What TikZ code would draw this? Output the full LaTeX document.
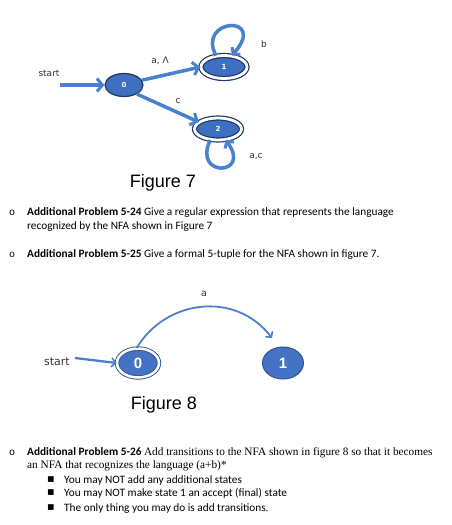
\documentclass[tikz,border=0pt]{standalone}
\usepackage{fontspec}
\setmainfont{Carlito}
\newfontfamily\hand{DejaVu Sans}
\newfontfamily\arialf{Liberation Sans}
\newfontfamily\timesf{Liberation Serif}
\newfontfamily\monof{Liberation Mono}
\usetikzlibrary{arrows.meta,shapes.geometric}
\definecolor{nodefill}{HTML}{3F6FC0}
\definecolor{nodeline}{HTML}{1F3864}
\definecolor{arrowblue}{HTML}{4A80CF}
\definecolor{fillb}{HTML}{4472C4}
\definecolor{lineb}{HTML}{2F5597}
\tikzset{
  stA/.style={ellipse,fill=nodefill,draw=nodeline,line width=1.2pt,inner sep=0pt,
     text=white,font=\hand\bfseries\fontsize{7}{8}\selectfont},
  stAacc/.style={stA,double=white,double distance=2.8pt},
  thickarr/.style={draw=arrowblue,line width=3.5pt,-{Straight Barb[length=5.5pt,width=13pt,line width=3pt]}},
  looparr/.style={draw=arrowblue,line width=3.5pt,-{Straight Barb[length=4.5pt,width=11pt,line width=3pt]}},
  lbl/.style={font=\hand\fontsize{9}{10}\selectfont,text=black!80},
  stB/.style={ellipse,fill=fillb,draw=lineb,line width=1pt,inner sep=0pt,
     text=white,font=\arialf\bfseries\fontsize{15}{16}\selectfont},
  thinarr/.style={draw=arrowblue,line width=1.8pt,-{Straight Barb[length=4pt,width=9pt,line width=1.6pt]}},
  figcap/.style={font=\arialf\fontsize{18}{20}\selectfont,anchor=base},
  para/.style={anchor=base west,inner sep=0pt,font=\fontsize{11.3}{13}\selectfont},
  bul/.style={anchor=base west,inner sep=0pt,font=\monof\fontsize{10}{11}\selectfont},
  sqb/.style={anchor=center,inner sep=0pt,font=\hand\fontsize{7.5}{8}\selectfont},
}
\begin{document}
\begin{tikzpicture}[x=1pt,y=-1pt]
\useasboundingbox[fill=white] (0,0) rectangle (452,525);
% ---------- Figure 7 ----------
\node[lbl] (start7) at (49,73) {start};
\coordinate (s7) at (60,85);
\node[stA,minimum width=38pt,minimum height=23pt] (q0) at (124,85) {0};
\node[stAacc,minimum width=46pt,minimum height=23pt] (q1) at (224,67) {1};
\node[stAacc,minimum width=47pt,minimum height=22pt] (q2) at (218,129) {2};
\draw[thickarr] (s7) -- (q0.west);
\draw[thickarr] (q0.15) -- (q1.west);
\draw[thickarr] (q0.-35) -- (q2.160);
\node[lbl] (la) at (160,61) {a, Λ};
\node[lbl] (lc) at (178,101) {c};
\draw[looparr] (q1.125) .. controls (196,18) and (268,14) .. (q1.55);
\node[lbl] (lb) at (264,44) {b};
\draw[looparr] (q2.-125) .. controls (192,178) and (252,176) .. (q2.-55);
\node[lbl] (lac) at (256,157) {a,c};
\node[figcap] (f7) at (163,187) {Figure 7};
% ---------- Text block 1 ----------
\node[bul] (b1) at (9,215) {o};
\node[para] (t1) at (27,215) {\textbf{Additional Problem 5-24} Give a regular expression that represents the language};
\node[para] (t2) at (27,229) {recognized by the NFA shown in Figure 7};
\node[bul] (b2) at (9,257) {o};
\node[para] (t3) at (27,257) {\textbf{Additional Problem 5-25} Give a formal 5-tuple for the NFA shown in figure 7.};
% ---------- Figure 8 ----------
\node[lbl,font=\hand\fontsize{11}{12}\selectfont] (start8) at (57,362) {start};
\coordinate (s8) at (75,358);
\node[stB,minimum width=42pt,minimum height=29pt,
  double=white,double distance=2.5pt,draw=lineb,line width=0.9pt] (p0) at (138,363) {0};
\node[stB,minimum width=41pt,minimum height=32pt] (p1) at (283,363) {1};
\draw[thinarr,line width=2.3pt] (s8) -- (p0.west);
\coordinate (e8) at (272,338);
\draw[thinarr] (p0.95) .. controls (165,300) and (235,290) .. (e8);
\node[lbl,font=\hand\fontsize{9.5}{10}\selectfont] (la8) at (204,294) {a};
\node[figcap] (f8) at (164,409) {Figure 8};
% ---------- Text block 2 ----------
\node[bul] (b3) at (9,455) {o};
\node[para] (t4) at (27,455) {\textbf{Additional Problem 5-26} {\timesf Add transitions to the NFA shown in figure 8 so that it becomes}};
\node[para] (t5) at (27,468) {\timesf an NFA that recognizes the language (a+b)*};
\node[sqb] (q1b) at (51,480) {■};
\node[para] (t6) at (64,483) {You may NOT add any additional states};
\node[sqb] (q2b) at (51,493) {■};
\node[para] (t7) at (64,496) {You may NOT make state 1 an accept (final) state};
\node[sqb] (q3b) at (51,508) {■};
\node[para] (t8) at (64,511) {The only thing you may do is add transitions.};
\end{tikzpicture}
\end{document}
